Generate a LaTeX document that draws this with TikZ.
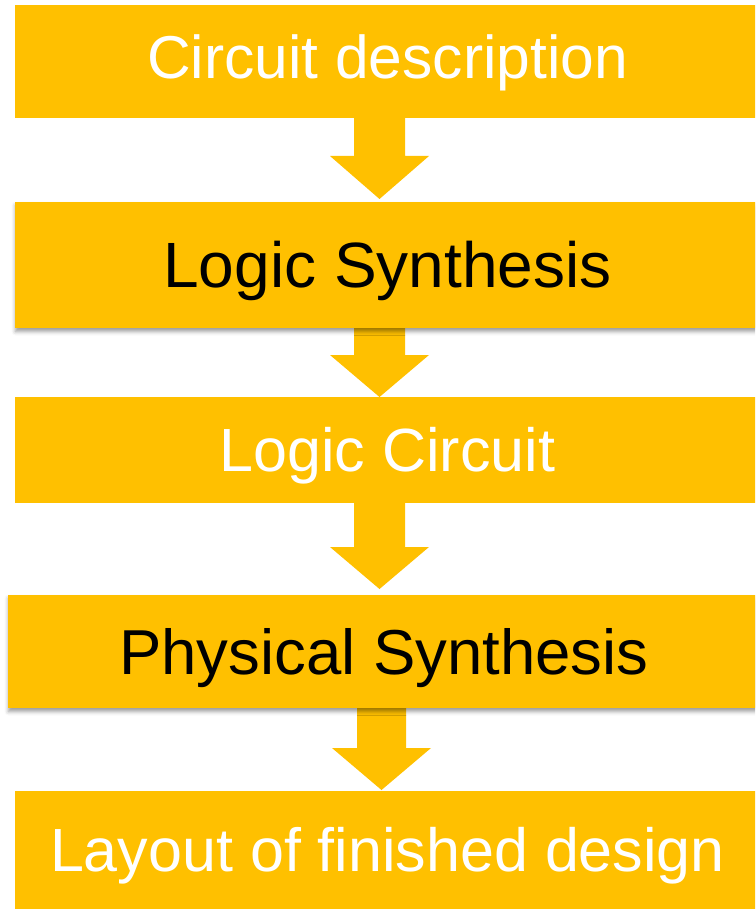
\documentclass[tikz,border=0pt]{standalone}
\usepackage{fontspec}
\setmainfont{Liberation Sans}
\usetikzlibrary{shadows.blur}
\pgfdeclarelayer{background}
\pgfsetlayers{background,main}
\definecolor{gold}{HTML}{FFC000}

\tikzset{
  stage/.style={rectangle, fill=gold, inner sep=0pt, align=center,
    text depth=0pt},
  lifted/.style={blur shadow={shadow xshift=0.5pt, shadow yshift=-3.5pt,
    shadow blur radius=4pt, shadow opacity=40}},
  flow/.style={fill=gold},
}

% block arrow: #1 upper node, #2 shaft left x, #3 shaft right x,
% #4 head left x, #5 head right x, #6 head start y, #7 tip x, #8 tip y
\newcommand\blockarrow[8]{%
  \fill[flow] (#2,0 |- #1.south) -- (#2,#6) -- (#4,#6) -- (#7,#8)
    -- (#5,#6) -- (#3,#6) -- (#3,0 |- #1.south) -- cycle;}

\begin{document}
\begin{tikzpicture}[x=1pt, y=-1pt]
\useasboundingbox (0,0) rectangle (755,909);
\clip (0,0) rectangle (755,909);

\node[stage, text=white, minimum width=745pt, minimum height=113pt,
  font=\fontsize{60.5}{61}\selectfont, text height=43.3pt, text depth=9pt]
  (b1) at (387.5,61.5) {Circuit description};
\node[stage, lifted, text=black, minimum width=745pt, minimum height=126pt,
  font=\fontsize{64}{65}\selectfont, text height=45.8pt]
  (b2) at (387.5,265) {Logic Synthesis};
\node[stage, text=white, minimum width=745pt, minimum height=106pt,
  font=\fontsize{61}{62}\selectfont, text height=43.7pt]
  (b3) at (387.5,450) {Logic Circuit};
\node[stage, lifted, text=black, minimum width=752pt, minimum height=113pt,
  font=\fontsize{63.5}{64}\selectfont, text height=45.5pt]
  (b4) at (384,651.5) {Physical Synthesis};
\node[stage, text=white, minimum width=745pt, minimum height=118pt,
  font=\fontsize{61}{62}\selectfont, text height=43.7pt]
  (b5) at (387.5,850) {Layout of finished design};

\begin{pgfonlayer}{background}
  \blockarrow{b1}{354}{405}{330}{429}{156}{379.5}{199}
  \blockarrow{b2}{354}{405}{330}{429}{355}{379.5}{397}
  \blockarrow{b3}{354}{405}{330}{429}{547}{379.5}{589}
  \blockarrow{b4}{357}{406}{332}{431}{748}{381.5}{790}
\end{pgfonlayer}
\end{tikzpicture}
\end{document}
